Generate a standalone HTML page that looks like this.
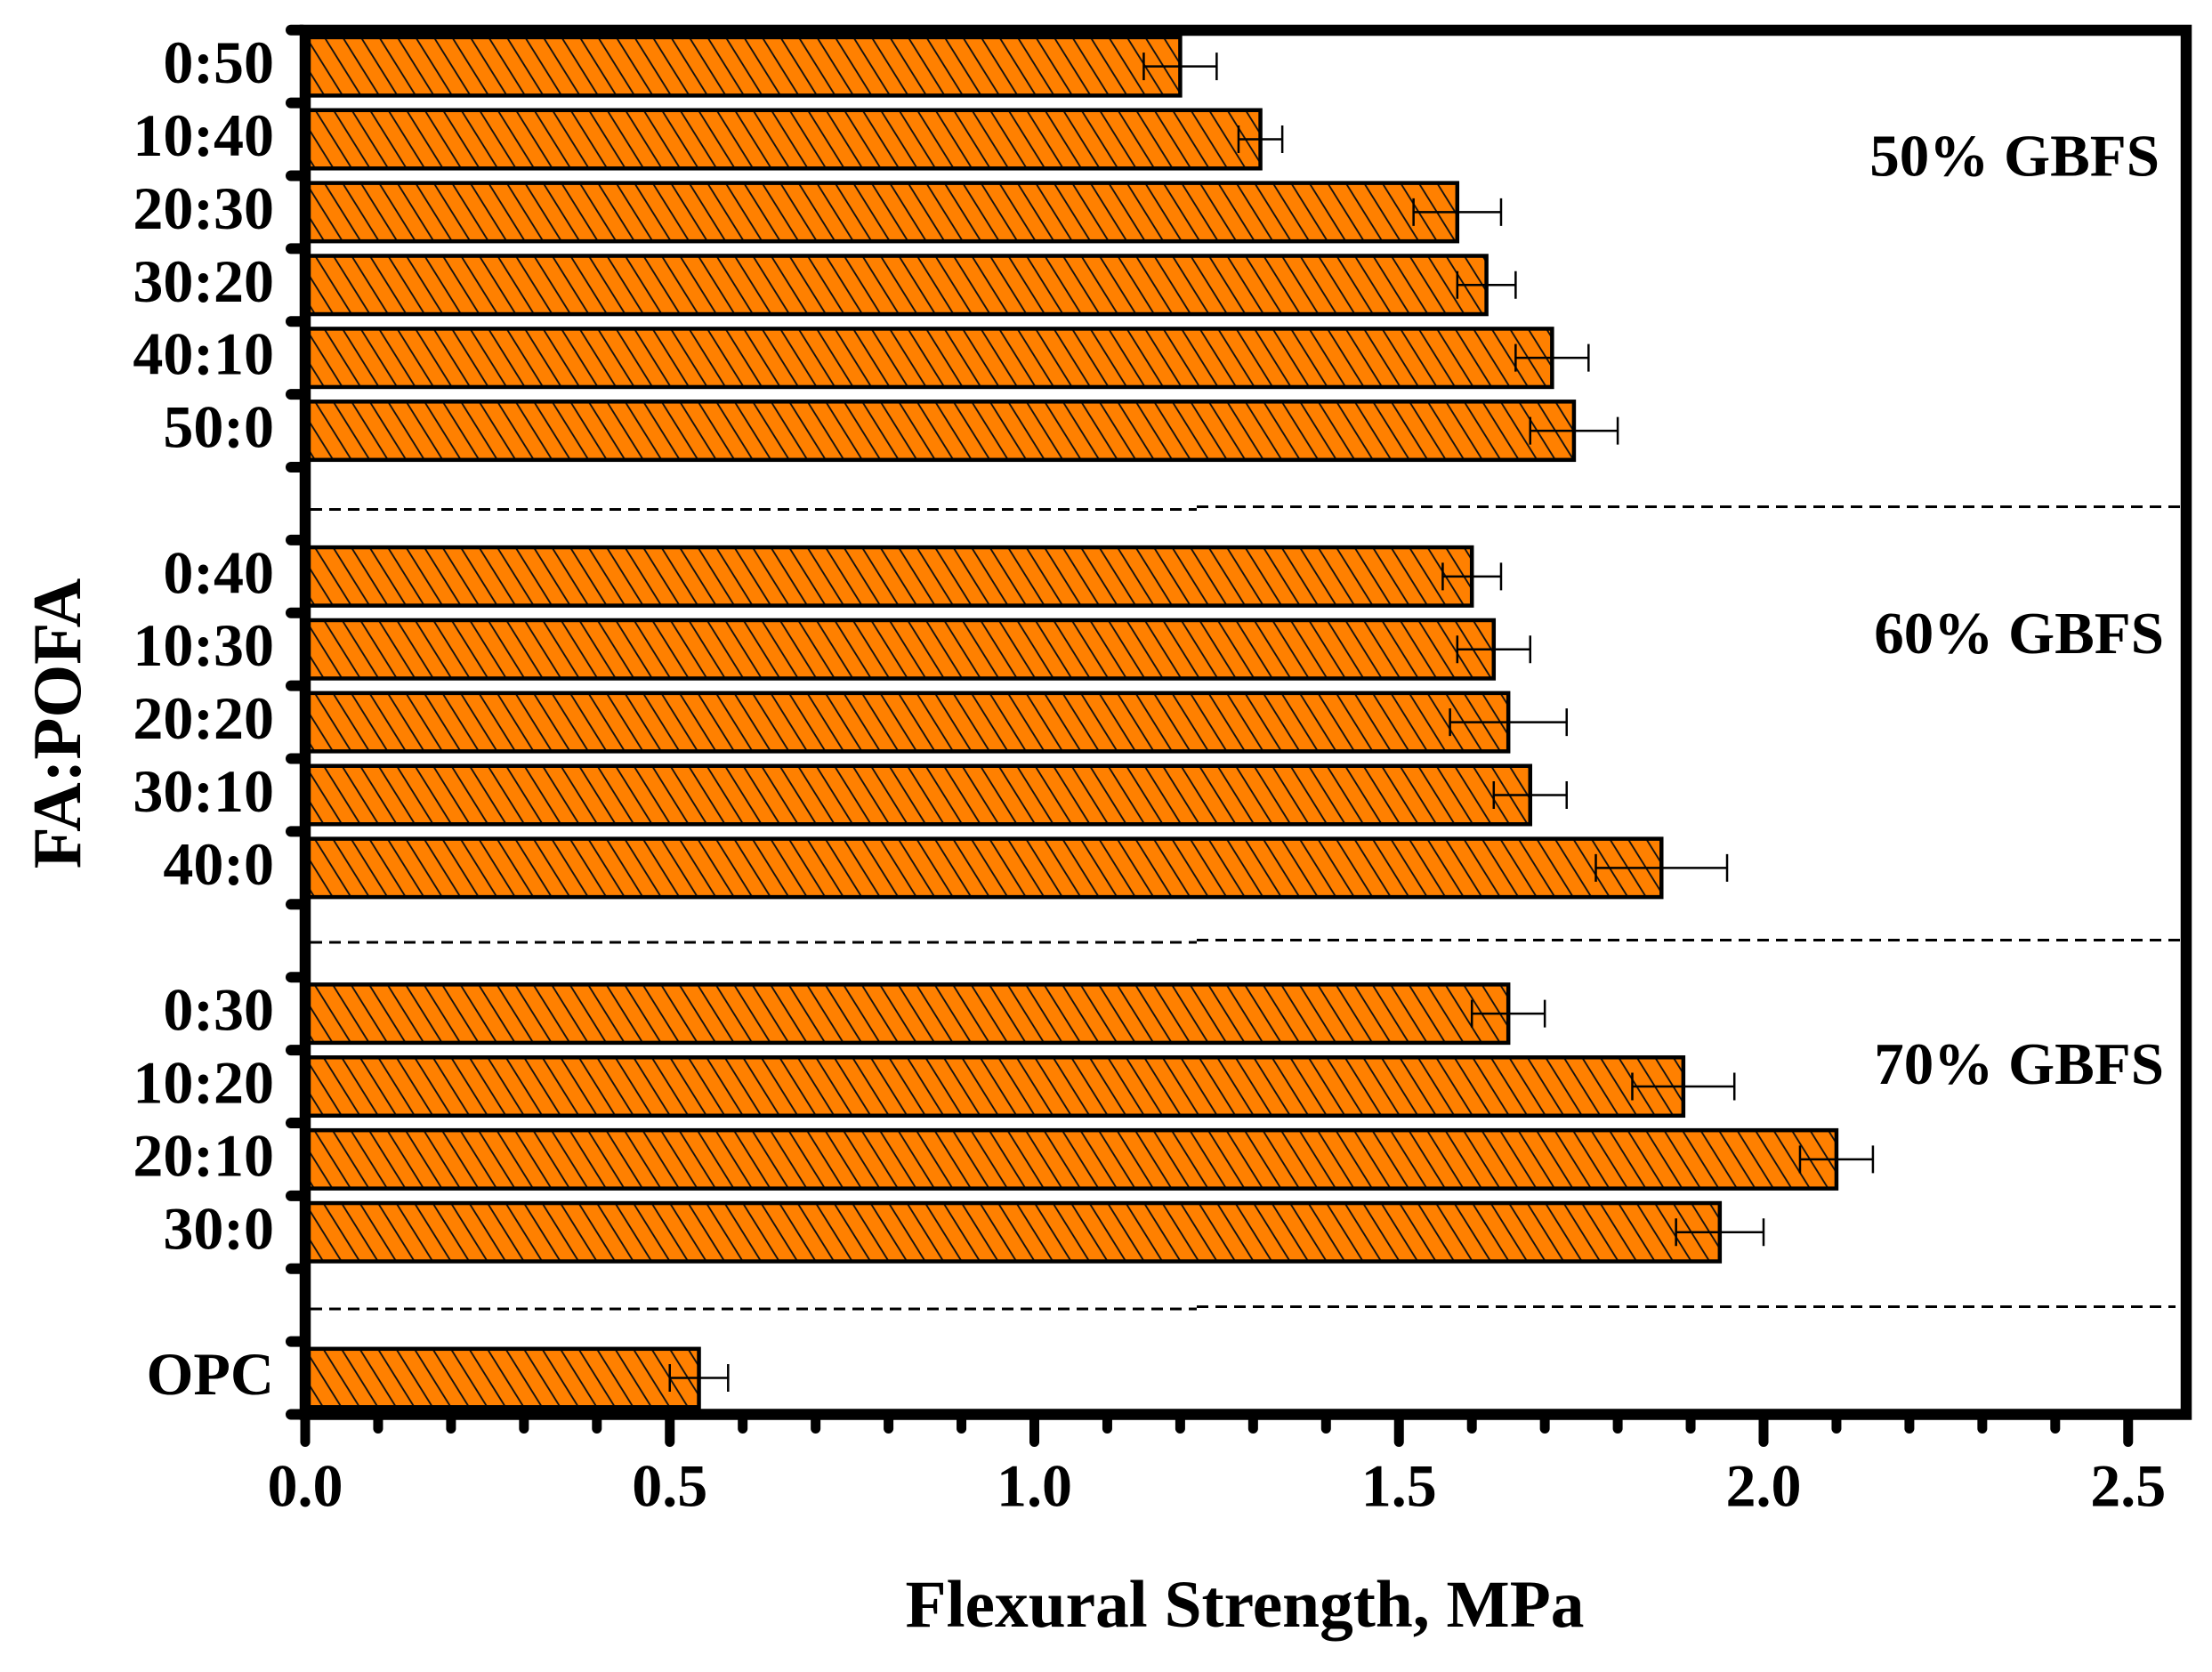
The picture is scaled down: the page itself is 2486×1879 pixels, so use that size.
<!DOCTYPE html>
<html lang="en">
<head>
<meta charset="utf-8">
<title>Flexural Strength by FA:POFA ratio</title>
<style>
html,body{margin:0;padding:0;background:#fff;}
svg{display:block;}
text{font-family:"Liberation Serif",serif;font-weight:bold;fill:#000;}
</style>
</head>
<body>
<svg id="chart" xmlns="http://www.w3.org/2000/svg" width="2486" height="1879" viewBox="0 0 2486 1879">
<defs>
<pattern id="hatch" patternUnits="userSpaceOnUse" width="20.5" height="10" patternTransform="skewX(32)">
<rect width="20.5" height="10" fill="#ff8000"/>
<rect x="9.4" y="0" width="2.2" height="10" fill="#111"/>
</pattern>
</defs>
<rect width="2486" height="1879" fill="#fff"/>
<g id="bars"></g>
<g id="seps">
<line x1="349" x2="1345" y1="572.5" y2="572.5" stroke="#000" stroke-width="3" stroke-dasharray="13 8"/>
<line x1="1345" x2="2451" y1="569.5" y2="569.5" stroke="#000" stroke-width="3" stroke-dasharray="13 8"/>
<line x1="349" x2="1345" y1="1059" y2="1059" stroke="#000" stroke-width="3" stroke-dasharray="13 8"/>
<line x1="1345" x2="2451" y1="1056.5" y2="1056.5" stroke="#000" stroke-width="3" stroke-dasharray="13 8"/>
<line x1="349" x2="1345" y1="1471" y2="1471" stroke="#000" stroke-width="3" stroke-dasharray="13 8"/>
<line x1="1345" x2="2445" y1="1468.5" y2="1468.5" stroke="#000" stroke-width="3" stroke-dasharray="13 8"/>
</g>
<g id="errors"></g>
<g id="axes"></g>
<rect x="343" y="34" width="2114" height="1555.5" fill="none" stroke="#000" stroke-width="12.5"/>
<text x="2427" y="197.5" font-size="67" text-anchor="end">50% GBFS</text>
<text x="2432" y="734" font-size="67" text-anchor="end">60% GBFS</text>
<text x="2432" y="1218" font-size="67" text-anchor="end">70% GBFS</text>
<text x="1399" y="1828" font-size="75.4" text-anchor="middle">Flexural Strength, MPa</text>
<text x="0" y="0" font-size="77" text-anchor="middle" transform="translate(90,813) rotate(-90)">FA:POFA</text>
</svg>
<script>
const categories = ["0:50","10:40","20:30","30:20","40:10","50:0",null,"0:40","10:30","20:20","30:10","40:0",null,"0:30","10:20","20:10","30:0",null,"OPC"];
const strengthValues = [1.20,1.31,1.58,1.62,1.71,1.74,null,1.60,1.63,1.65,1.68,1.86,null,1.65,1.89,2.10,1.94,null,0.54];
const errorValues = [0.05,0.03,0.06,0.04,0.05,0.06,null,0.04,0.05,0.08,0.05,0.09,null,0.05,0.07,0.05,0.06,null,0.04];
const xMajorTicks = [0.0,0.5,1.0,1.5,2.0,2.5];
const xMinorTicks = [0.1,0.2,0.3,0.4,0.6,0.7,0.8,0.9,1.1,1.2,1.3,1.4,1.6,1.7,1.8,1.9,2.1,2.2,2.3,2.4];

const NS = "http://www.w3.org/2000/svg";
const plotLeft = 343, plotBottom = 1589.5, plotTop = 33.7, unitX = 819.5;
const slot = (plotBottom - plotTop) / categories.length;
function xScale(v){ return plotLeft + v * unitX; }
function yEdge(i){ return plotTop + i * slot; }
function yCenter(i){ return yEdge(i + 0.5); }
function mk(tag, parent, attrs){
  const el = document.createElementNS(NS, tag);
  for (const k in attrs) el.setAttribute(k, attrs[k]);
  parent.appendChild(el);
  return el;
}
const barsG = document.getElementById("bars");
const errG = document.getElementById("errors");
const axesG = document.getElementById("axes");

categories.forEach(function(cat, i){
  if (cat === null) return;
  const v = strengthValues[i], e = errorValues[i];
  const h = slot * 0.8, yc = yCenter(i);
  const bar = mk("rect", barsG, {x: plotLeft, y: yc - h/2, width: xScale(v) - plotLeft, height: h, fill: "url(#hatch)", stroke: "#000", "stroke-width": 4.5});
  
  

  const eb = mk("path", errG, {
    d: "M" + xScale(v - e) + " " + yc + "H" + xScale(v + e) +
       "M" + xScale(v - e) + " " + (yc - 15.5) + "V" + (yc + 15.5) +
       "M" + xScale(v + e) + " " + (yc - 15.5) + "V" + (yc + 15.5),
    fill: "none", stroke: "#000", "stroke-width": 2.5});
  
  

  const lab = mk("text", axesG, {x: 308, y: yCenter(i) + 18.5, "font-size": 68, "text-anchor": "end"});
  lab.textContent = cat;
  
  
});

for (let i = 0; i <= categories.length; i++){
  const t = mk("line", axesG, {x1: 340, x2: 327, y1: yEdge(i), y2: yEdge(i), stroke: "#000", "stroke-width": 12, "stroke-linecap": "round"});
  
  
}
xMajorTicks.forEach(function(v){
  const t = mk("line", axesG, {x1: xScale(v), x2: xScale(v), y1: 1592, y2: 1620.5, stroke: "#000", "stroke-width": 11, "stroke-linecap": "round"});
  
  
  const lab = mk("text", axesG, {x: xScale(v), y: 1692.5, "font-size": 68, "text-anchor": "middle"});
  lab.textContent = v.toFixed(1);
  
  
});
xMinorTicks.forEach(function(v){
  const t = mk("line", axesG, {x1: xScale(v), x2: xScale(v), y1: 1592, y2: 1605.5, stroke: "#000", "stroke-width": 11, "stroke-linecap": "round"});
  
  
});
</script>
</body>
</html>
